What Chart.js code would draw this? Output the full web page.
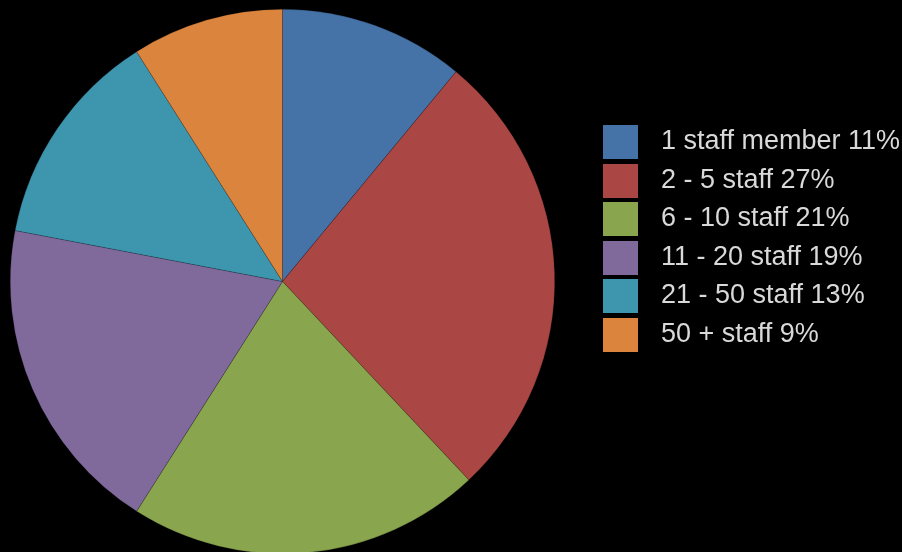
<!DOCTYPE html>
<html>
<head>
<meta charset="utf-8">
<script src="https://cdn.jsdelivr.net/npm/chart.js@4"></script>
<style>
  html, body { margin: 0; padding: 0; background: #000; overflow: hidden; }
  #wrap { position: relative; width: 902px; height: 556px; }
  #legend { position: absolute; left: 603px; top: 125px; font-family: "Liberation Sans", Arial, sans-serif; font-size: 27px; color: #d9d9d9; }
  .item { position: relative; height: 38.6px; }
  .box { position: absolute; left: 0; top: 0; width: 35px; height: 34px; }
  .txt { position: absolute; left: 58px; top: -2px; line-height: 34px; white-space: nowrap; }
</style>
</head>
<body>
<div id="wrap">
  <canvas id="staffChart" width="902" height="556"></canvas>
  <div id="legend"></div>
</div>
<script>
var categories = ['1 staff member', '2 - 5 staff', '6 - 10 staff', '11 - 20 staff', '21 - 50 staff', '50 + staff'];
var shares = [11, 27, 21, 19, 13, 9];
var colours = ['#4572A7', '#AA4643', '#89A54E', '#80699B', '#3D96AE', '#DB843D'];

// legend built from the same lists
var legend = document.getElementById('legend');
for (var i = 0; i < categories.length; i++) {
  var row = document.createElement('div');
  row.className = 'item';
  row.innerHTML = '<div class="box" style="background:' + colours[i] + '"></div>' +
    '<div class="txt">' + categories[i] + ' ' + shares[i] + '%</div>';
  legend.appendChild(row);
}

var ctx = document.getElementById('staffChart').getContext('2d');
var chart = new Chart(ctx, {
  type: 'pie',
  data: {
    labels: categories,
    datasets: [{
      data: shares,
      backgroundColor: colours,
      borderColor: 'rgba(0,0,0,0.35)',
      borderWidth: 0.5
    }]
  },
  options: {
    responsive: false,
    animation: false,
    layout: { padding: { left: 10, right: 347, top: 9, bottom: 2 } },
    plugins: {
      legend: { display: false },
      tooltip: { enabled: false }
    }
  }
});
</script>
</body>
</html>
